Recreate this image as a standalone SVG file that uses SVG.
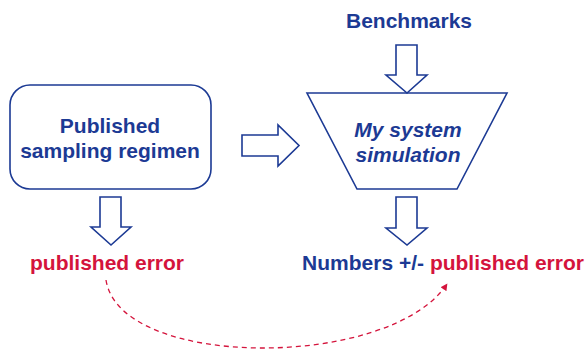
<svg xmlns="http://www.w3.org/2000/svg" width="588" height="350" viewBox="0 0 588 350">
<style>
.shape{fill:#fff;stroke:#1c3a94;stroke-width:1.6;stroke-linejoin:miter}
.t{font-family:"Liberation Sans",Arial,sans-serif;font-weight:bold;font-size:21px;text-anchor:middle}
.b{fill:#1c3a94}
.r{fill:#d4143c}
.i{font-style:italic}
.dash{fill:none;stroke:#d4143c;stroke-width:1.3;stroke-dasharray:5,4}
</style>
<defs>
<marker id="ah" viewBox="0 0 10 10" refX="9" refY="5" markerWidth="7" markerHeight="7" markerUnits="userSpaceOnUse" orient="auto">
<path d="M0,0 L10,5 L0,10 z" fill="#d4143c"/>
</marker>
</defs>
<rect width="588" height="350" fill="#fff"/>
<g id="regimen">
<rect class="shape" x="10" y="85" width="201" height="104" rx="20"/>
<text class="t b" x="110" y="133">Published</text>
<text class="t b" x="110" y="158">sampling regimen</text>
</g>
<g id="simulation">
<polygon class="shape" points="307,93 507,93 457,189 357,189"/>
<text class="t b i" x="408" y="137">My system</text>
<text class="t b i" x="408" y="162">simulation</text>
</g>
<g id="benchmarks">
<text class="t b" x="409" y="28">Benchmarks</text>
</g>
<g id="published-error">
<text class="t r" x="107" y="270">published error</text>
</g>
<g id="numbers">
<text class="t" x="443" y="270"><tspan class="b">Numbers +/- </tspan><tspan class="r">published error</tspan></text>
</g>
<g id="connectors">
<polygon class="shape" points="396,45 417,45 417,75 427,75 407,93 386,75 396,75"/>
<polygon class="shape" points="242,135 278,135 278,125 299,145.5 278,166 278,156 242,156"/>
<polygon class="shape" points="100,197 121,197 121,227 131,227 111,245 91,227 100,227"/>
<polygon class="shape" points="396,197 417,197 417,228 427,228 407,245 386,228 396,228"/>
<path class="dash" d="M106,280 C120,370 390,370 447,284" marker-end="url(#ah)"/>
</g>
</svg>
